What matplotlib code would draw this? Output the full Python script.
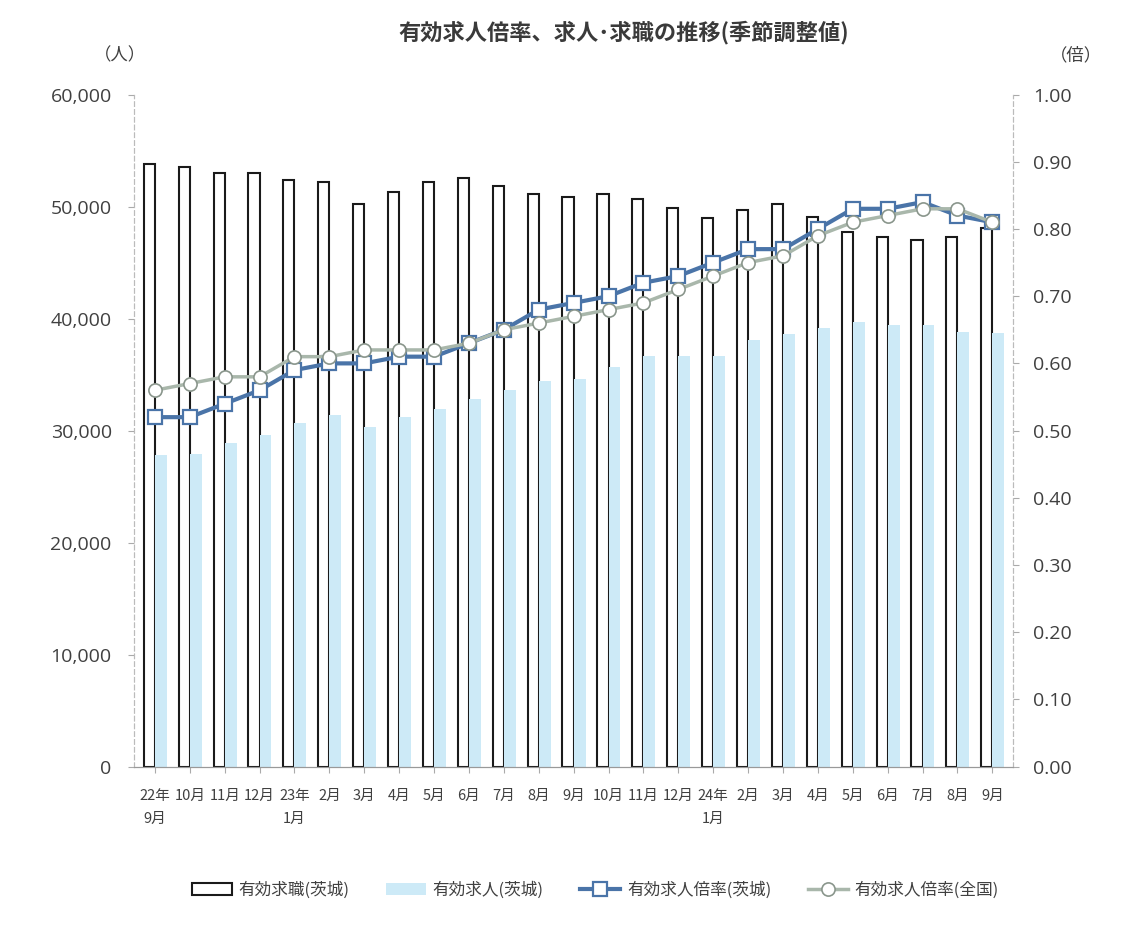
import matplotlib.pyplot as plt
import numpy as np

plt.rcParams['font.family'] = ['Noto Sans CJK JP', 'DejaVu Sans']

months = ['22年\n9月', '10月', '11月', '12月', '23年\n1月', '2月', '3月', '4月', '5月', '6月',
          '7月', '8月', '9月', '10月', '11月', '12月', '24年\n1月', '2月', '3月', '4月',
          '5月', '6月', '7月', '8月', '9月']

# 有効求職(茨城)
seekers = [53780, 53510, 53030, 52970, 52370, 52220, 50200, 51270, 52170, 52520,
           51840, 51120, 50880, 51090, 50640, 49840, 48940, 49690, 50220, 49090,
           47740, 47240, 47000, 47240, 48050]
# 有効求人(茨城)
openings = [27840, 27900, 28860, 29570, 30710, 31400, 30290, 31180, 31930, 32830,
            33630, 34470, 34620, 35720, 36620, 36620, 36620, 38110, 38590, 39180,
            39690, 39390, 39390, 38790, 38700]
# 有効求人倍率(茨城)
ratio_ibaraki = [0.52, 0.52, 0.54, 0.56, 0.59, 0.60, 0.60, 0.61, 0.61, 0.63,
                 0.65, 0.68, 0.69, 0.70, 0.72, 0.73, 0.75, 0.77, 0.77, 0.80,
                 0.83, 0.83, 0.84, 0.82, 0.81]
# 有効求人倍率(全国)
ratio_japan = [0.56, 0.57, 0.58, 0.58, 0.61, 0.61, 0.62, 0.62, 0.62, 0.63,
               0.65, 0.66, 0.67, 0.68, 0.69, 0.71, 0.73, 0.75, 0.76, 0.79,
               0.81, 0.82, 0.83, 0.83, 0.81]

x = np.arange(len(months))
txt = '#404040'

fig = plt.figure(figsize=(11.45, 9.27), dpi=100)
ax = fig.add_axes([0.117, 0.173, 0.768, 0.725])
ax2 = ax.twinx()

ax.bar(x - 0.16, seekers, width=0.32, facecolor='white', edgecolor='#1a1a1a',
       linewidth=1.5, label='有効求職(茨城)', zorder=2)
ax.bar(x + 0.17, openings, width=0.34, facecolor='#cdeaf7', edgecolor='none',
       label='有効求人(茨城)', zorder=2)

ax2.plot(x, ratio_ibaraki, color='#4a74a8', linewidth=3, marker='s', markersize=9.5,
         markerfacecolor='white', markeredgecolor='#4a74a8', markeredgewidth=1.6,
         label='有効求人倍率(茨城)', zorder=4)
ax2.plot(x, ratio_japan, color='#a9b7ab', linewidth=2.5, marker='o', markersize=9.5,
         markerfacecolor='white', markeredgecolor='#8a968c', markeredgewidth=1.2,
         label='有効求人倍率(全国)', zorder=5)

ax.set_xlim(-0.6, len(months) - 0.4)
ax.set_ylim(0, 60000)
ax.set_yticks(np.arange(0, 60001, 10000))
ax.set_yticklabels([f'{v:,}' for v in range(0, 60001, 10000)])
ax2.set_ylim(0, 1.0)
ax2.set_yticks(np.arange(0, 1.01, 0.1))
ax2.set_yticklabels([f'{v:.2f}' for v in np.arange(0, 1.01, 0.1)])

ax.set_xticks(x)
ax.set_xticklabels(months, fontsize=10.5, color=txt, va='top', linespacing=1.8)

for a in (ax, ax2):
    a.spines['top'].set_visible(False)
    a.spines['left'].set_color('#bbbbbb')
    a.spines['left'].set_linestyle((0, (4, 3)))
    a.spines['right'].set_color('#bbbbbb')
    a.spines['right'].set_linestyle((0, (4, 3)))
    a.spines['bottom'].set_color('#999999')
ax.tick_params(axis='y', labelsize=14, colors=txt, length=4, pad=12, color='#aaaaaa')
ax2.tick_params(axis='y', labelsize=14, colors=txt, length=4, pad=10, color='#aaaaaa')
ax.tick_params(axis='x', length=4, pad=12, color='#aaaaaa')
for lab in ax.get_yticklabels() + ax2.get_yticklabels():
    lab.set_family(['Open Sans', 'DejaVu Sans'])
    lab.set_color(txt)

fig.text(0.105, 0.94, '（人）', fontsize=12.5, color=txt, ha='center', va='center')
fig.text(0.94, 0.94, '（倍）', fontsize=12.5, color=txt, ha='center', va='center')
fig.suptitle('有効求人倍率、求人･求職の推移(季節調整値)', x=0.545, y=0.978,
             fontsize=16, fontweight='bold', color='#3a3a3a')

h1, l1 = ax.get_legend_handles_labels()
h2, l2 = ax2.get_legend_handles_labels()
fig.legend(h1 + h2, l1 + l2, loc='center', bbox_to_anchor=(0.52, 0.04), ncol=4,
           frameon=False, fontsize=12, labelcolor=txt, handlelength=2.4, columnspacing=2.2,
           handletextpad=0.4)

fig.savefig('out.png', dpi=100)
